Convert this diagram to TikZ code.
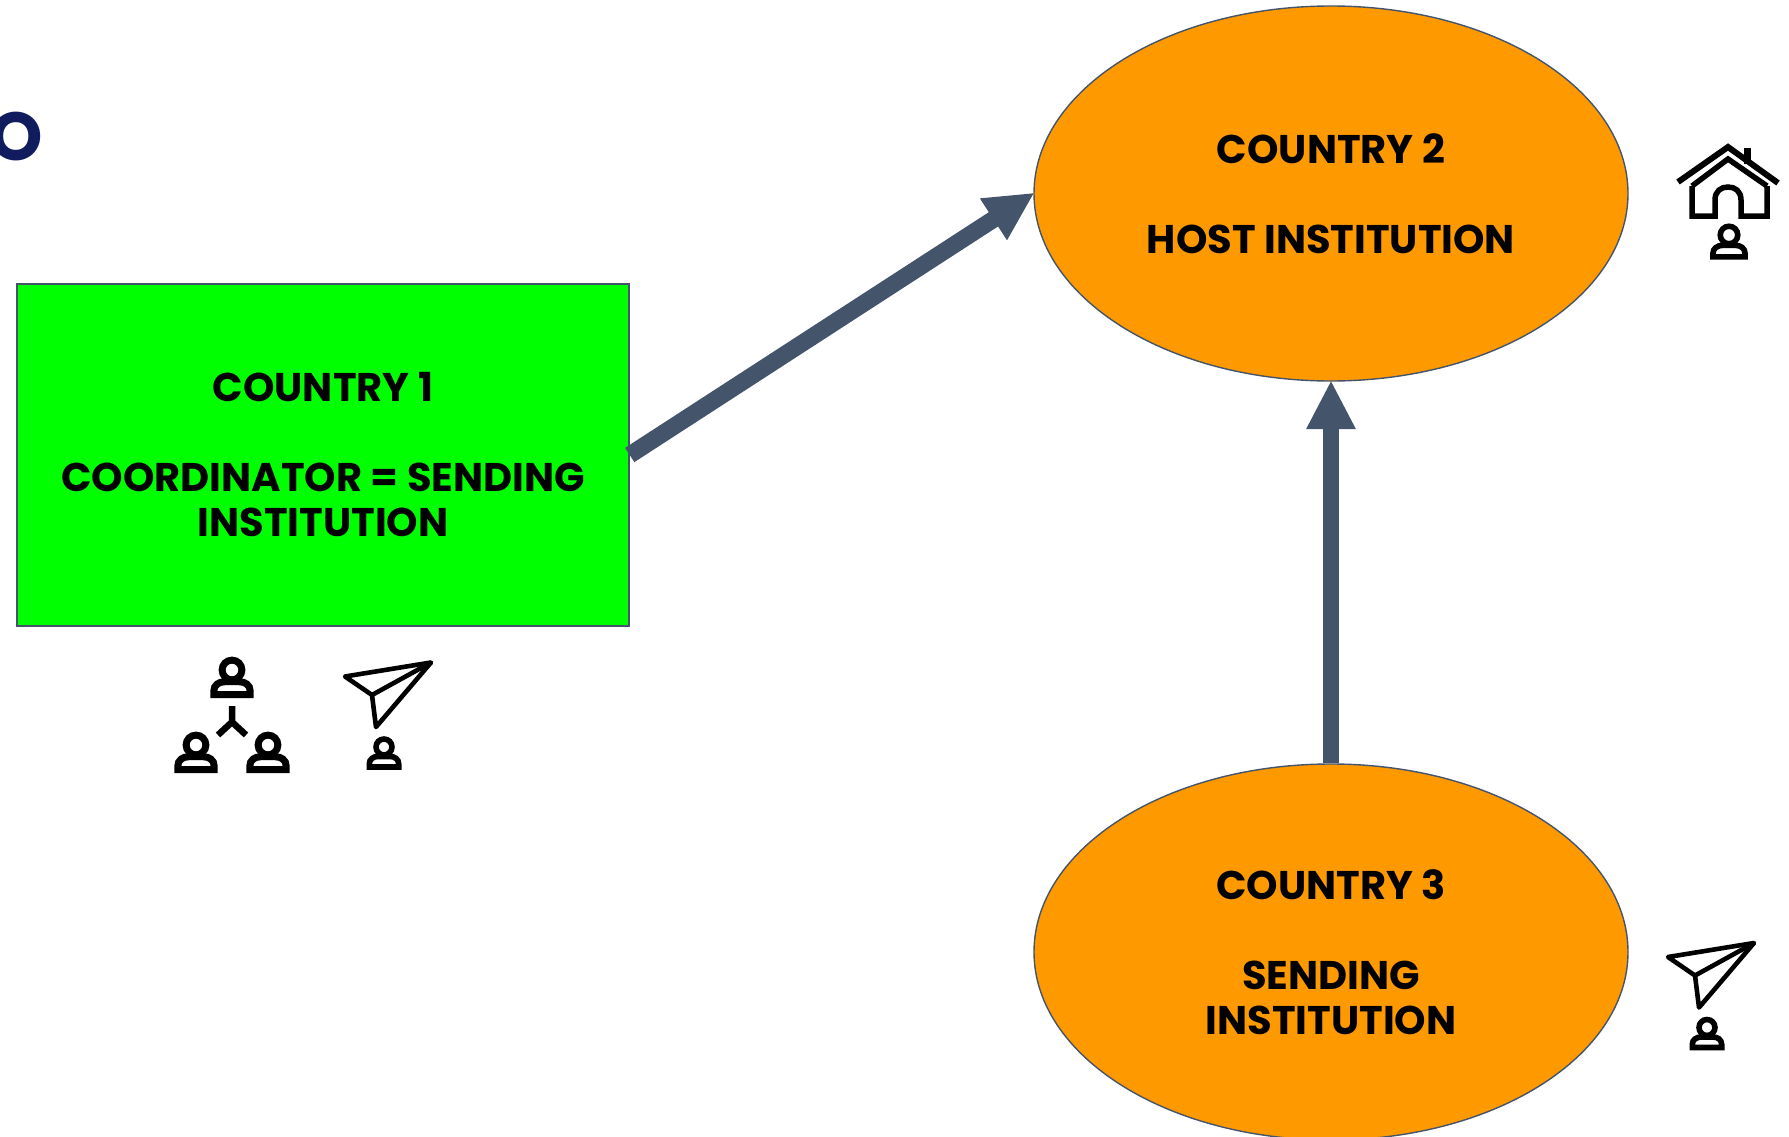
\documentclass[tikz,border=0pt]{standalone}
\usepackage{fontspec}
\setmainfont{Poppins}[BoldFont={Poppins Bold}]
\usetikzlibrary{arrows.meta,shapes.geometric}
\definecolor{linkblue}{HTML}{44546A}
\definecolor{boxgreen}{HTML}{00FF00}
\definecolor{ovalorange}{HTML}{FF9900}
\definecolor{titlenavy}{HTML}{111C5E}
\tikzset{
  x=1pt,y=-1pt,
  lbl/.style={align=center,text=black,font=\fontsize{40}{45}\selectfont\bfseries,inner sep=0pt},
  inst/.style={lbl,draw=linkblue,line width=1.4pt},
  link/.style={draw=linkblue,line width=15.5pt,-{Triangle[length=49pt,width=46pt]},shorten >=-1.5pt},
  iconline/.style={draw=black,line join=miter,line cap=butt,fill=none},
  pics/person/.style={code={
    \draw[iconline] (0,0) circle (0.76);
    \draw[iconline] (-1.4,1.9) -- (-1.4,1.62) .. controls (-1.4,1.15) and (-1.0,0.9) .. (-0.55,0.9) -- (0.55,0.9) .. controls (1.0,0.9) and (1.4,1.15) .. (1.4,1.62) -- (1.4,1.9) -- cycle;
  }},
  pics/plane/.style={code={
    \draw[iconline,line join=round,line width=4.6pt] (345,676.5) -- (431,662.5) -- (376,727) -- (372,695) -- cycle;
    \draw[iconline,line width=4.6pt] (372,695) -- (431,662.5);
  }},
}
\begin{document}
\begin{tikzpicture}
\useasboundingbox (0,0) rectangle (1789,1137);
\node[inner sep=0pt,text=titlenavy,font=\fontsize{68}{68}\selectfont\bfseries] (titleo) at (16,137) {O};
\node[inst,rectangle,fill=boxgreen,minimum width=612pt,minimum height=342pt] (coord) at (323,455)
  {COUNTRY 1\\[45pt]COORDINATOR = SENDING\\INSTITUTION};
\node[inst,ellipse,fill=ovalorange,minimum width=594pt,minimum height=375pt] (host) at (1331,193.5)
  {COUNTRY 2\\[45pt]HOST INSTITUTION};
\node[inst,ellipse,fill=ovalorange,minimum width=594pt,minimum height=376pt] (send) at (1331,952)
  {COUNTRY 3\\[45pt]SENDING\\INSTITUTION};
\draw[link,line width=17pt] (coord.east) -- (host.west);
\draw[link] (send.north) -- (host.south);
% coordinator icon
\pic[scale=13,line width=7pt] at (232,670) {person};
\pic[scale=13,line width=7pt] at (196,745) {person};
\pic[scale=13,line width=7pt] at (268,745) {person};
\draw[iconline,line width=6.5pt] (232,706) -- (232,722) (218,735) -- (232,722) -- (246,735);
% sending icons
\pic {plane};
\pic[scale=10.5,line width=5.6pt] at (384,747) {person};
\begin{scope}[shift={(1323,280.5)}]
  \pic {plane};
  \pic[scale=10.5,line width=5.6pt] at (384,747) {person};
\end{scope}
% host icon
\draw[iconline,line width=6pt] (1678,182) -- (1728,147) -- (1778,183);
\draw[iconline,line width=7pt] (1747,148) -- (1747,164);
\draw[iconline,line width=5.5pt] (1692,186) -- (1692,216) -- (1715,216) -- (1715,200) .. controls (1715,191) and (1721,187) .. (1728,187) .. controls (1735,187) and (1741,191) .. (1741,200) -- (1741,216) -- (1767,216) -- (1767,186);
\draw[iconline,line width=5.5pt] (1692,186) -- (1728,159) -- (1767,186);
\pic[scale=11.5,line width=5.6pt] at (1729,235) {person};
\end{tikzpicture}
\end{document}
